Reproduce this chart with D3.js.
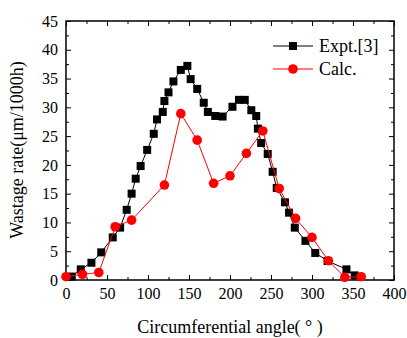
<!DOCTYPE html>
<html>
<head>
<meta charset="utf-8">
<script src="https://cdn.jsdelivr.net/npm/d3@7"></script>
<style>
  body { margin: 0; background: #fff; }
  svg text { font-family: "Liberation Serif", "Times New Roman", "DejaVu Serif", serif; }
</style>
</head>
<body>
<div class="chart"></div>
<script>
// experimental data (angle, wastage rate)
const exptAngle = [7, 18, 31, 43, 57, 66, 74, 80, 85, 91, 99, 107, 111, 118, 120, 125, 131, 140, 148, 152, 160, 168, 173, 182, 191, 203, 211, 218, 226, 232, 234, 238, 246, 252, 257, 267, 272, 279, 292, 304, 319, 342, 352];
const exptRate = [0.6, 1.85, 3.0, 4.8, 7.4, 9.1, 12.2, 15.0, 17.6, 19.8, 22.6, 25.4, 27.9, 29.2, 31.1, 32.6, 34.5, 36.5, 37.2, 34.9, 33.2, 30.8, 29.2, 28.5, 28.4, 30.1, 31.3, 31.3, 29.5, 28.5, 26.3, 23.8, 21.9, 18.8, 16.0, 13.5, 11.7, 9.1, 6.8, 4.7, 3.3, 1.85, 0.8];

// calculated data
const calcAngle = [0, 20, 40, 60, 80, 120, 140, 160, 180, 200, 220, 240, 260, 280, 300, 320, 340, 360];
const calcRate = [0.57, 1.0, 1.3, 9.25, 10.4, 16.5, 28.9, 24.3, 16.8, 18.1, 22.0, 25.9, 15.9, 10.7, 7.4, 3.35, 0.47, 0.57];

const xTicks = [0, 50, 100, 150, 200, 250, 300, 350, 400];
const yTicks = [0, 5, 10, 15, 20, 25, 30, 35, 40, 45];
const legendLabels = ["Expt.[3]", "Calc."];

const width = 407;
const height = 338;
const padL = 66, padR = 394, padT = 21, padB = 280;
const serif = "'Liberation Serif', 'Times New Roman', 'DejaVu Serif', serif";

const svg = d3.select(".chart")
   .append("svg")
   .attr("width", width)
   .attr("height", height)
   .attr("font-family", serif);

const x = d3.scaleLinear().domain([0, 400]).range([padL, padR]);
const y = d3.scaleLinear().domain([0, 45]).range([padB, padT]);

// minor ticks, all four sides, pointing in
const xMinor = d3.range(25, 400, 50);
const yMinor = d3.range(2.5, 45, 5);

const axisStyle = (g) => {
   g.attr("font-family", serif).attr("font-size", 16);
   g.select(".domain").remove();
   g.selectAll(".tick line").attr("stroke", "#000").attr("stroke-width", 1);
   g.selectAll(".tick text").attr("fill", "#000");
};

svg.append("g")
   .attr("transform", `translate(0,${padB})`)
   .call(d3.axisBottom(x).tickValues(xTicks).tickSizeInner(-5).tickSizeOuter(0).tickPadding(8))
   .call(axisStyle);
svg.append("g")
   .attr("transform", `translate(0,${padB})`)
   .call(d3.axisBottom(x).tickValues(xMinor).tickSize(-3).tickFormat(""))
   .call(axisStyle);
svg.append("g")
   .attr("transform", `translate(0,${padT})`)
   .call(d3.axisTop(x).tickValues(xTicks).tickSize(-5).tickFormat(""))
   .call(axisStyle);
svg.append("g")
   .attr("transform", `translate(0,${padT})`)
   .call(d3.axisTop(x).tickValues(xMinor).tickSize(-3).tickFormat(""))
   .call(axisStyle);

svg.append("g")
   .attr("transform", `translate(${padL},0)`)
   .call(d3.axisLeft(y).tickValues(yTicks).tickSizeInner(-5).tickSizeOuter(0).tickPadding(8))
   .call(axisStyle);
svg.append("g")
   .attr("transform", `translate(${padL},0)`)
   .call(d3.axisLeft(y).tickValues(yMinor).tickSize(-3).tickFormat(""))
   .call(axisStyle);
svg.append("g")
   .attr("transform", `translate(${padR},0)`)
   .call(d3.axisRight(y).tickValues(yTicks).tickSize(-5).tickFormat(""))
   .call(axisStyle);
svg.append("g")
   .attr("transform", `translate(${padR},0)`)
   .call(d3.axisRight(y).tickValues(yMinor).tickSize(-3).tickFormat(""))
   .call(axisStyle);

// frame
svg.append("rect")
   .attr("x", padL)
   .attr("y", padT)
   .attr("width", padR - padL)
   .attr("height", padB - padT)
   .attr("fill", "none")
   .attr("stroke", "#000")
   .attr("stroke-width", 1.5);

// lines
const expt = exptAngle.map((a, i) => [a, exptRate[i]]);
const calc = calcAngle.map((a, i) => [a, calcRate[i]]);
const line = d3.line().x((d) => x(d[0])).y((d) => y(d[1]));

svg.append("path")
   .attr("d", line(expt))
   .attr("fill", "none")
   .attr("stroke", "#000")
   .attr("stroke-width", 1);

svg.selectAll(".sq")
   .data(expt)
   .enter()
   .append("rect")
   .attr("class", "sq")
   .attr("x", (d) => x(d[0]) - 4)
   .attr("y", (d) => y(d[1]) - 4)
   .attr("width", 8)
   .attr("height", 8)
   .attr("fill", "#000");

svg.append("path")
   .attr("d", line(calc))
   .attr("fill", "none")
   .attr("stroke", "#ff0000")
   .attr("stroke-width", 1);

svg.selectAll(".dot")
   .data(calc)
   .enter()
   .append("circle")
   .attr("class", "dot")
   .attr("cx", (d) => x(d[0]))
   .attr("cy", (d) => y(d[1]))
   .attr("r", 4.8)
   .attr("fill", "#ff0000");

// legend
const legend = svg.append("g").attr("transform", "translate(273,46)");
legendLabels.forEach((label, i) => {
   const g = legend.append("g").attr("transform", `translate(0,${i * 23})`);
   const color = i === 0 ? "#000" : "#ff0000";
   g.append("line").attr("x1", 0).attr("x2", 40).attr("stroke", color).attr("stroke-width", 1);
   if (i === 0) {
      g.append("rect").attr("x", 16).attr("y", -4).attr("width", 8).attr("height", 8).attr("fill", color);
   } else {
      g.append("circle").attr("cx", 20).attr("r", 4.8).attr("fill", color);
   }
   g.append("text")
      .attr("x", 46)
      .attr("y", 6)
      .style("font-size", "18px")
      .text(label);
});

// axis titles
svg.append("text")
   .attr("x", 230)
   .attr("y", 333)
   .attr("text-anchor", "middle")
   .style("font-size", "18px")
   .text("Circumferential angle( ° )");

svg.append("text")
   .attr("transform", "translate(23,150) rotate(-90)")
   .attr("text-anchor", "middle")
   .style("font-size", "18px")
   .text("Wastage rate(μm/1000h)");
</script>
</body>
</html>
